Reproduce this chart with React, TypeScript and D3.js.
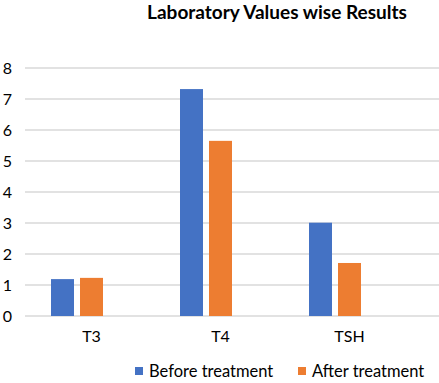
import React from "react";
import * as d3 from "d3";

const categories = ["T3", "T4", "TSH"];
const seriesNames = ["Before treatment", "After treatment"];
const beforeValues = [1.19, 7.32, 3.01];
const afterValues = [1.23, 5.65, 1.71];
const yTicks = [0, 1, 2, 3, 4, 5, 6, 7, 8];
const colors = ["#4472C4", "#ED7D31"];

const W = 439;
const H = 383;
const FONT = "Lato, 'Open Sans', sans-serif";

export default function App() {
  const y = d3.scaleLinear().domain([0, 8]).range([316, 68]);
  const x0 = d3.scaleBand<string>().domain(categories).range([27, 414]);
  const x1 = d3
    .scaleBand<string>()
    .domain([...seriesNames, "_empty"])
    .range([0, 81])
    .paddingInner(6 / 29);
  const series = [beforeValues, afterValues];

  return (
    <svg width={W} height={H} style={{ position: "absolute", left: 0, top: 0, background: "#fff" }}>
      <text x={277} y={19} textAnchor="middle" fontFamily={FONT} fontWeight="bold" fontSize={19} fill="#000">
        Laboratory Values wise Results
      </text>
      {yTicks.map((t) => (
        <g key={t}>
          <line x1={25} x2={439} y1={y(t)} y2={y(t)} stroke="#D9D9D9" strokeWidth={1.5} />
          <text x={12} y={y(t)} dy="0.35em" textAnchor="end" fontFamily={FONT} fontSize={16} fill="#000">
            {t}
          </text>
        </g>
      ))}
      {categories.map((c, ci) => {
        const cx = x0(c)! + x0.bandwidth() / 2;
        const start = cx - 40.5;
        return (
          <g key={c}>
            {series.map((vals, si) => (
              <rect
                key={si}
                x={start + x1(seriesNames[si])!}
                y={y(vals[ci])}
                width={x1.bandwidth()}
                height={y(0) - y(vals[ci])}
                fill={colors[si]}
              />
            ))}
            <text x={cx} y={342} textAnchor="middle" fontFamily={FONT} fontSize={16} fill="#000">
              {c}
            </text>
          </g>
        );
      })}
      {seriesNames.map((s, i) => {
        const lx = i === 0 ? 135 : 298;
        return (
          <g key={s}>
            <rect x={lx} y={367} width={8} height={8} fill={colors[i]} />
            <text x={lx + 14} y={377} fontFamily={FONT} fontSize={16.5} fill="#000">
              {s}
            </text>
          </g>
        );
      })}
    </svg>
  );
}
